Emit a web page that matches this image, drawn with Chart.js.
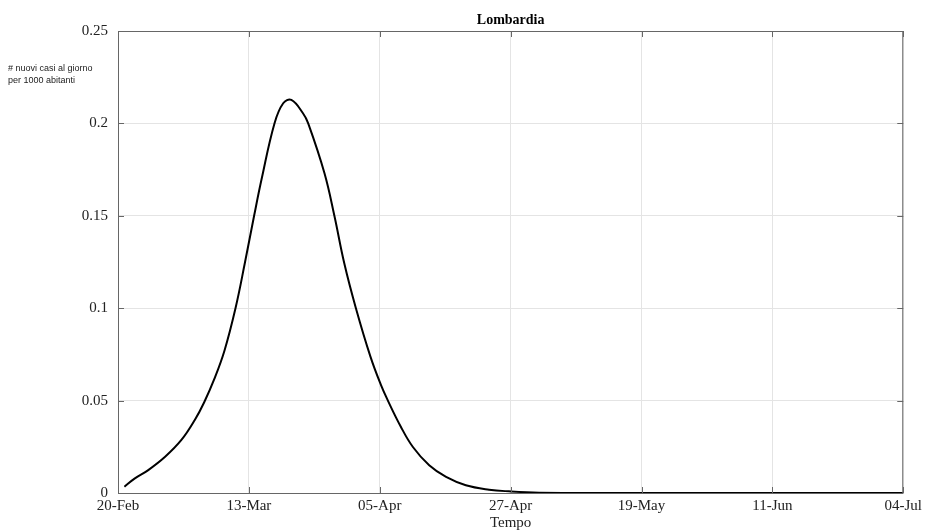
<!DOCTYPE html>
<html>
<head>
<meta charset="utf-8">
<script src="https://cdn.jsdelivr.net/npm/chart.js@4.4.0/dist/chart.umd.min.js"></script>
<style>
  html, body { margin: 0; padding: 0; background: #fff; }
  #wrap { width: 926px; height: 532px; }
</style>
</head>
<body>
<div id="wrap"><canvas id="mainChart" width="926" height="532"></canvas></div>
<script>
// --- Data (giorni dal 20-Feb, nuovi casi per 1000 abitanti) ---
const days   = [1.1, 2.9, 5.2, 8.1, 10.9, 13.2, 14.8, 16.6, 18.3, 20.2, 21.8, 23.4, 24.7, 26.9, 28.4, 29.8, 31.8, 32.7, 35.5, 37.2, 38.9, 40.9, 43.4, 45.2, 46.4, 48.6, 50.7, 53.5, 56.4, 59.8, 63.8, 67.2, 72.4, 85, 110, 135];
const values = [0.0034, 0.0079, 0.0124, 0.0196, 0.0287, 0.0395, 0.049, 0.062, 0.077, 0.1, 0.1243, 0.15, 0.17, 0.2, 0.2109, 0.2127, 0.2055, 0.2, 0.173, 0.15, 0.1243, 0.1, 0.0738, 0.0585, 0.05, 0.036, 0.0249, 0.015, 0.0087, 0.0042, 0.0018, 0.0009, 0.0002, 0.00005, 0.00001, 0];
const xTickPos    = [0, 22.5, 45, 67.5, 90, 112.5, 135];
const xTickLabels = ['20-Feb', '13-Mar', '05-Apr', '27-Apr', '19-May', '11-Jun', '04-Jul'];
const yTicks      = [0, 0.05, 0.1, 0.15, 0.2, 0.25];

const serif = '"Liberation Serif", "DejaVu Serif", serif';

// --- Plugin: cornice, tacche interne, titolo e etichetta asse y ---
const boxPlugin = {
    id: 'boxPlugin',
    afterDraw(chart) {
        const { ctx, chartArea: a, scales } = chart;
        ctx.save();
        ctx.strokeStyle = '#666'; ctx.lineWidth = 1;
        ctx.strokeRect(a.left + 0.5, a.top + 0.5, a.right - a.left - 1, a.bottom - a.top);
        ctx.beginPath();
        xTickPos.forEach(v => {
            const x = Math.round(scales.x.getPixelForValue(v)) + 0.5;
            ctx.moveTo(x, a.bottom); ctx.lineTo(x, a.bottom - 6);
            ctx.moveTo(x, a.top); ctx.lineTo(x, a.top + 6);
        });
        yTicks.forEach(v => {
            const y = Math.round(scales.y.getPixelForValue(v)) + 0.5;
            ctx.moveTo(a.left, y); ctx.lineTo(a.left + 6, y);
            ctx.moveTo(a.right, y); ctx.lineTo(a.right - 6, y);
        });
        ctx.stroke();

        ctx.fillStyle = '#000';
        ctx.font = 'bold 14px ' + serif;
        ctx.textAlign = 'center'; ctx.textBaseline = 'alphabetic';
        ctx.fillText('Lombardia', (a.left + a.right) / 2, 24);

        ctx.font = '9px "Liberation Sans", Arial, sans-serif';
        ctx.textAlign = 'left';
        ctx.fillStyle = '#222';
        ctx.fillText('# nuovi casi al giorno', 8, 71);
        ctx.fillText('per 1000 abitanti', 8, 83);
        ctx.restore();
    }
};

new Chart(document.getElementById('mainChart').getContext('2d'), {
    type: 'line',
    data: {
        datasets: [{
            data: days.map((d, i) => ({ x: d, y: values[i] })),
            borderColor: '#000', borderWidth: 2, pointRadius: 0,
            tension: 0.4, fill: false
        }]
    },
    options: {
        responsive: false, animation: false, events: [],
        layout: { padding: { top: 31, right: 21, left: 0, bottom: 0 } },
        plugins: { legend: { display: false }, tooltip: { enabled: false }, title: { display: false } },
        scales: {
            x: {
                type: 'linear', min: 0, max: 135,
                afterBuildTicks: s => { s.ticks = xTickPos.map(v => ({ value: v })); },
                afterFit: s => { s.height = 39; },
                grid: { color: '#e4e4e4', drawTicks: false },
                border: { display: false },
                ticks: {
                    padding: 4, maxRotation: 0, autoSkip: false, color: '#222',
                    font: { family: serif, size: 15 },
                    callback: (v, i) => xTickLabels[i]
                },
                title: { display: true, text: 'Tempo', color: '#222', font: { family: serif, size: 15 }, padding: { top: 0, bottom: 0 } }
            },
            y: {
                min: 0, max: 0.25,
                afterBuildTicks: s => { s.ticks = yTicks.map(v => ({ value: v })); },
                afterFit: s => { s.width = 118; },
                grid: { color: '#e4e4e4', drawTicks: false },
                border: { display: false },
                ticks: {
                    padding: 10, color: '#222',
                    font: { family: serif, size: 15 },
                    callback: v => String(Math.round(v * 100) / 100)
                }
            }
        }
    },
    plugins: [boxPlugin]
});
</script>
</body>
</html>
